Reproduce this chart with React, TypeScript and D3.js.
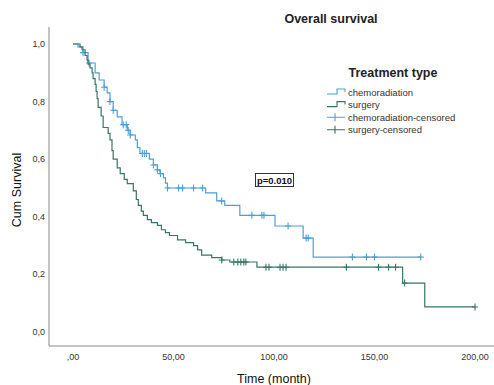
import React, { useEffect, useRef } from "react";
import * as d3 from "d3";

// step times (month) and survival after each step
const chemoTimes = [0, 2.5, 5, 7.5, 11, 13, 15.5, 17, 18.4, 20, 22, 24.4, 27, 28.4, 31, 32, 33.3, 38, 40, 42, 43.3, 45, 46, 47, 66, 71.5, 75.5, 83, 100.5, 114.5, 119.5];
const chemoSurv = [1.0, 0.99, 0.97, 0.934, 0.9, 0.875, 0.85, 0.83, 0.8, 0.77, 0.747, 0.72, 0.7, 0.684, 0.667, 0.64, 0.62, 0.6, 0.58, 0.563, 0.55, 0.535, 0.517, 0.5, 0.483, 0.455, 0.44, 0.405, 0.368, 0.326, 0.26];
const chemoEnd = 173;
const chemoCensored = [5, 8, 15.5, 18.4, 20, 25, 26.5, 27.5, 28.5, 34.5, 35.5, 36.5, 40, 42, 43.5, 47, 52.5, 54.5, 60, 64.5, 74, 89, 94, 95, 107, 116, 117, 139, 146, 150, 173];

const surgTimes = [0, 3.5, 4.5, 6, 7, 7.5, 8.5, 9.5, 10, 11, 11.5, 12, 12.5, 14, 15, 17.5, 18.4, 19.4, 20, 22, 23.5, 25.5, 27, 30, 31.5, 32.5, 34, 35, 37, 39, 42, 44, 46, 48, 52, 56, 60, 62, 64, 69, 74, 78, 91.5, 164, 175];
const surgSurv = [1.0, 0.99, 0.98, 0.96, 0.944, 0.93, 0.917, 0.9, 0.88, 0.86, 0.835, 0.81, 0.78, 0.75, 0.71, 0.69, 0.667, 0.63, 0.6, 0.57, 0.55, 0.53, 0.515, 0.49, 0.46, 0.44, 0.42, 0.405, 0.39, 0.38, 0.37, 0.355, 0.345, 0.335, 0.32, 0.31, 0.3, 0.285, 0.267, 0.258, 0.25, 0.243, 0.225, 0.17, 0.087];
const surgEnd = 200;
const surgCensored = [74, 80, 82, 83.5, 85, 86, 96, 97.5, 103, 104.5, 106, 136, 152, 157, 160.5, 165, 200];

const xTicks = [0, 50, 100, 150, 200];
const yTicks = [0, 0.2, 0.4, 0.6, 0.8, 1.0];
const legendLabels = ["chemoradiation", "surgery", "chemoradiation-censored", "surgery-censored"];

const blue = "#4aa0da";
const green = "#3a7568";
const font = "Liberation Sans, Arial, sans-serif";

export default function App() {
    const svgRef = useRef(null);

    useEffect(() => {
        const svg = d3.select(svgRef.current);
        svg.selectAll("*").remove();

        var x = d3.scaleLinear().domain([0, 200]).range([73, 475]);
        var y = d3.scaleLinear().domain([0, 1]).range([332, 44]);

        // title
        svg.append("text").attr("x", 331).attr("y", 23).attr("text-anchor", "middle")
            .style("font-family", font).style("font-size", "12.5px").style("font-weight", "bold")
            .attr("fill", "#222").text("Overall survival");

        // axes lines
        svg.append("line").attr("x1", 49).attr("x2", 49).attr("y1", 27).attr("y2", 346).attr("stroke", "#888");
        svg.append("line").attr("x1", 49).attr("x2", 494).attr("y1", 346).attr("y2", 346).attr("stroke", "#888");

        svg.selectAll(".ytick").data(yTicks).enter().append("text")
            .attr("x", 45).attr("y", d => y(d) + 3).attr("text-anchor", "end")
            .style("font-family", font).style("font-size", "9px").attr("fill", "#333")
            .text(d => d3.format(".1f")(d).replace(".", ","));

        svg.selectAll(".xtick").data(xTicks).enter().append("text")
            .attr("x", d => x(d)).attr("y", 360).attr("text-anchor", "middle")
            .style("font-family", font).style("font-size", "9px").attr("fill", "#333")
            .text(d => (d === 0 ? ",00" : d3.format(".2f")(d).replace(".", ",")));

        svg.append("text").attr("x", 274).attr("y", 383).attr("text-anchor", "middle")
            .style("font-family", font).style("font-size", "12.5px").attr("fill", "#111")
            .text("Time (month)");

        svg.append("text").attr("transform", "translate(21,190) rotate(-90)").attr("text-anchor", "middle")
            .style("font-family", font).style("font-size", "12.5px").attr("fill", "#111")
            .text("Cum Survival");

        // survival step curves
        let stepAt = (times, surv, t) => {
            let s = surv[0];
            for (let i = 0; i < times.length; i++) { if (times[i] <= t) s = surv[i]; }
            return s;
        };

        let line = d3.line().x(d => x(d[0])).y(d => y(d[1])).curve(d3.curveStepAfter);

        let series = [
            { times: chemoTimes, surv: chemoSurv, end: chemoEnd, cens: chemoCensored, color: blue },
            { times: surgTimes, surv: surgSurv, end: surgEnd, cens: surgCensored, color: green }
        ];

        series.forEach(s => {
            let pts = s.times.map((t, i) => [t, s.surv[i]]);
            pts.push([s.end, s.surv[s.surv.length - 1]]);
            svg.append("path").attr("d", line(pts)).attr("fill", "none")
                .attr("stroke", s.color).attr("stroke-width", 1.2);

            svg.selectAll(null).data(s.cens).enter().append("path")
                .attr("d", d => {
                    let cx = x(d), cy = y(stepAt(s.times, s.surv, d));
                    return "M" + (cx - 3) + "," + cy + "H" + (cx + 3) + "M" + cx + "," + (cy - 3.5) + "V" + (cy + 3.5);
                })
                .attr("stroke", s.color).attr("stroke-width", 1.1).attr("fill", "none");
        });

        // p-value box
        svg.append("rect").attr("x", 255.5).attr("y", 173.5).attr("width", 38).attr("height", 13)
            .attr("fill", "#fff").attr("stroke", "#333").attr("stroke-width", 1);
        svg.append("text").attr("x", 274.5).attr("y", 184).attr("text-anchor", "middle")
            .style("font-family", font).style("font-size", "9.5px").style("font-weight", "bold")
            .attr("fill", "#111").text("p=0.010");

        // legend
        svg.append("text").attr("x", 393).attr("y", 77).attr("text-anchor", "middle")
            .style("font-family", font).style("font-size", "12.5px").style("font-weight", "bold")
            .attr("fill", "#222").text("Treatment type");

        let legendColors = [blue, green, blue, green];
        legendLabels.forEach((lab, i) => {
            let ly = 92 + i * 12.6;
            if (i < 2) {
                svg.append("path").attr("d", "M327," + (ly + 2) + "H337V" + (ly - 3) + "H345V" + ly)
                    .attr("fill", "none").attr("stroke", legendColors[i]).attr("stroke-width", 1.1);
            } else {
                svg.append("path").attr("d", "M327," + ly + "H345M335," + (ly - 4) + "V" + (ly + 4))
                    .attr("fill", "none").attr("stroke", legendColors[i]).attr("stroke-width", 1.1);
            }
            svg.append("text").attr("x", 348).attr("y", ly + 3.5)
                .style("font-family", font).style("font-size", "9.5px").attr("fill", "#333")
                .text(lab);
        });
    }, []);

    return (
        <svg ref={svgRef} width={494} height={385}
            style={{ position: "absolute", left: 0, top: 0, background: "#fff" }} />
    );
}
